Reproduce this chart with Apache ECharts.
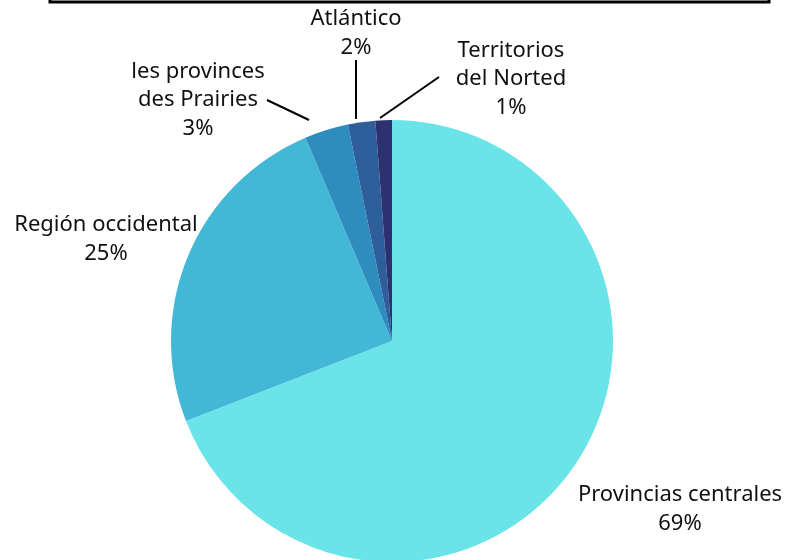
<!DOCTYPE html>
<html>
<head>
<meta charset="utf-8">
<script src="https://cdn.jsdelivr.net/npm/echarts@6/dist/echarts.min.js"></script>
<style>
html,body{margin:0;padding:0;background:#fff;}
#chart{width:785px;height:560px;}
</style>
</head>
<body>
<div id="chart"></div>
<script>
var categories = ['Provincias centrales', 'Región occidental', 'les provinces\ndes Prairies', 'Atlántico', 'Territorios\ndel Norted'];
var values = [69.1, 24.5, 3.2, 2.0, 1.2];
var percentLabels = ['69%', '25%', '3%', '2%', '1%'];
var colors = ['#6AE4E8', '#43B7D6', '#2E8CBE', '#2E5F9B', '#2D3170'];

// label placement (center of text block) and leader lines
var labelPos = [
  {x: 680, y: 509, line: null},
  {x: 106, y: 239, line: null},
  {x: 198, y: 100, line: [[267, 100], [309, 120]]},
  {x: 356, y: 33, line: [[356, 60], [356, 119]]},
  {x: 511, y: 79, line: [[439, 77], [380, 118]]}
];

var chart = echarts.init(document.getElementById('chart'), null, {renderer: 'canvas'});
var data = categories.map(function (c, i) {
  return {
    name: c,
    value: values[i],
    itemStyle: {color: colors[i]},
    labelLine: {show: !!labelPos[i].line}
  };
});
chart.setOption({
  animation: false,
  graphic: [{
    type: 'rect',
    shape: {x: 50, y: -20, width: 719, height: 22},
    style: {fill: '#fff', stroke: '#000', lineWidth: 3}
  }],
  series: [{
    type: 'pie',
    center: [392, 341],
    radius: 221,
    startAngle: 90,
    clockwise: true,
    avoidLabelOverlap: false,
    data: data,
    itemStyle: {borderWidth: 0},
    label: {
      show: true,
      position: 'outside',
      fontFamily: 'Noto Sans',
      fontSize: 22,
      lineHeight: 28.5,
      color: '#111',
      align: 'center',
      formatter: function (p) { return p.name + '\n' + percentLabels[p.dataIndex]; }
    },
    labelLine: {
      show: true,
      lineStyle: {color: '#000', width: 2}
    },
    labelLayout: function (p) {
      var lp = labelPos[p.dataIndex];
      var r = {x: lp.x, y: lp.y, align: 'center', verticalAlign: 'middle'};
      if (lp.line) r.labelLinePoints = lp.line;
      return r;
    }
  }]
});
</script>
</body>
</html>
